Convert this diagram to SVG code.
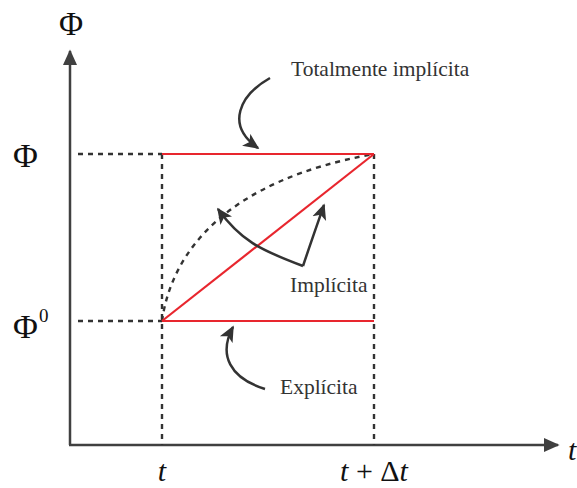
<svg xmlns="http://www.w3.org/2000/svg" width="577" height="488" viewBox="0 0 577 488">
<defs>
<style>
.axis{stroke:#404040;stroke-width:2.5;fill:none}
.dash{stroke:#333;stroke-width:2.4;fill:none;stroke-dasharray:5,5}
.red{stroke:#e8262e;stroke-width:2.2;fill:none}
.arr{stroke:#333;stroke-width:2.5;fill:none}
.lbl{font-family:"Liberation Serif",serif;font-size:21.5px;fill:#333}
.sym{font-family:"Liberation Serif",serif;fill:#111}
.it{font-family:"Liberation Serif",serif;font-style:italic;fill:#111}
</style>
<marker id="ax" viewBox="0 0 10 10" refX="9" refY="5" markerWidth="16" markerHeight="16" markerUnits="userSpaceOnUse" orient="auto">
<path d="M0,0.5 L10,5 L0,9.5 Z" fill="#404040"/>
</marker>
<marker id="ah2" viewBox="0 0 10 10" refX="9" refY="5" markerWidth="16" markerHeight="16" markerUnits="userSpaceOnUse" orient="auto">
<path d="M0,0.5 L10,5 L0,9.5 L2.5,5 Z" fill="#333"/>
</marker>
</defs>
<g id="axes">
<line class="axis" x1="70" y1="445" x2="70" y2="51" marker-end="url(#ax)"/>
<line class="axis" x1="69" y1="445" x2="558" y2="445" marker-end="url(#ax)"/>
</g>
<g id="connectors">
<line class="dash" x1="78" y1="154" x2="162" y2="154"/>
<line class="dash" x1="78" y1="321" x2="162" y2="321"/>
<line class="dash" x1="162" y1="154" x2="162" y2="445"/>
<line class="dash" x1="374" y1="154" x2="374" y2="445"/>
<path class="dash" d="M162,321 C172,250 228,180 374,154"/>
<line class="red" x1="162" y1="154" x2="374" y2="154"/>
<line class="red" x1="162" y1="321" x2="374" y2="321"/>
<line class="red" x1="162" y1="321" x2="374" y2="154"/>
<path class="arr" d="M270,78 C240,95 225,125 258,148" marker-end="url(#ah2)"/>
<path class="arr" d="M303,266 C260,250 240,240 218,209" marker-end="url(#ah2)"/>
<path class="arr" d="M303,266 C310,245 316,228 324,205" marker-end="url(#ah2)"/>
<path class="arr" d="M265,389 C230,378 218,355 233,327" marker-end="url(#ah2)"/>
</g>
<g id="labels">
<text class="sym" x="71" y="35" font-size="33" text-anchor="middle">Φ</text>
<text class="sym" x="13" y="167" font-size="34">Φ</text>
<text class="sym" x="13" y="338" font-size="34">Φ</text>
<text class="sym" x="39" y="322" font-size="19">0</text>
<text class="lbl" x="291" y="76">Totalmente implícita</text>
<text class="lbl" x="290" y="292">Implícita</text>
<text class="lbl" x="280" y="394">Explícita</text>
<text class="it" x="162" y="481" font-size="30" text-anchor="middle">t</text>
<text class="it" x="374" y="481" font-size="30" text-anchor="middle">t<tspan font-style="normal"> + Δ</tspan>t</text>
<text class="it" x="568" y="460" font-size="30">t</text>
</g>
</svg>
